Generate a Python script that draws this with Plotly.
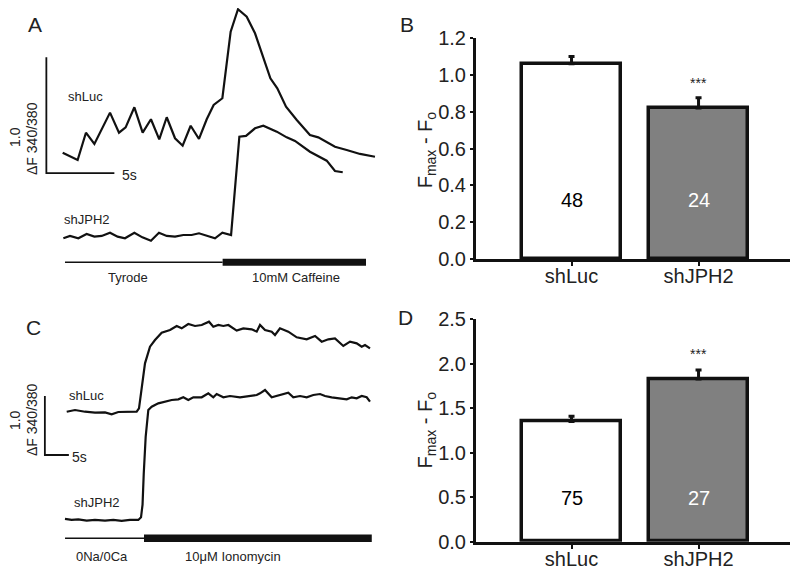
import plotly.graph_objects as go

# ---- Panel A: caffeine traces (time in s, ratio in dF 340/380) ----
a_luc_t = [0, 1.10, 1.71, 2.33, 3.48, 4.14, 4.63, 5.27, 5.88, 6.49, 7.10, 7.65, 8.26, 8.82,
           9.41, 10.02, 10.59, 11.10, 11.74, 12.35, 12.89, 13.53, 14.14, 14.75, 15.27, 15.78,
           16.42, 17.21, 18.18, 18.79, 20.02, 20.88, 21.86, 22.96]
a_luc_y = [0.727, 0.664, 0.899, 0.802, 1.072, 0.899, 0.945, 1.118, 0.899, 1.015, 0.842, 1.032,
           0.851, 0.787, 0.959, 0.845, 1.015, 1.138, 1.196, 1.770, 1.963, 1.899, 1.756, 1.554,
           1.368, 1.282, 1.123, 1.009, 0.879, 0.859, 0.778, 0.750, 0.716, 0.692]
a_jph_t = [0.05, 0.54, 1.15, 1.76, 2.33, 2.87, 3.48, 4.04, 4.58, 5.27, 5.86, 6.49, 7.08, 7.65,
           8.26, 8.87, 9.48, 10.02, 10.66, 11.20, 11.74, 12.38, 12.99, 13.48, 14.14, 14.75,
           15.74, 16.47, 17.08, 18.18, 19.41, 20.02, 20.59]
a_jph_y = [-0.011, 0.009, -0.011, 0.026, 0.003, 0.009, 0.037, 0.003, -0.011, 0.037, -0.003,
           -0.032, 0.037, 0.009, 0.003, 0.017, 0.017, 0.032, 0.009, -0.011, 0.037, 0.017,
           0.865, 0.871, 0.937, 0.960, 0.908, 0.859, 0.828, 0.735, 0.658, 0.569, 0.558]
a_scale_t = [-1.2, -1.2, 3.8]
a_scale_y = [1.55, 0.55, 0.55]
a_thin_t = [0.17, 11.76]
a_thick_t = [11.76, 22.3]
a_bar_y = -0.218

# ---- Panel C: ionomycin traces ----
c_luc_t = [0.15, 1.88, 3.96, 6.04, 8.13, 9.51, 10.90, 12.99, 14.72, 15.21, 15.76, 16.46, 17.50,
           18.54, 19.93, 21.67, 23.06, 24.10, 25.48, 26.88, 28.27, 29.79, 30.69, 31.73, 32.78,
           33.82, 35.56, 36.94, 38.69, 39.73, 40.42, 41.46, 42.85, 43.54, 44.58, 46.31, 48.06,
           50.14, 51.88, 53.27, 54.65, 56.04, 57.77, 59.17, 60.56, 61.60, 62.29, 63.33]
c_luc_y = [1.824, 1.853, 1.824, 1.807, 1.813, 1.780, 1.819, 1.819, 1.824, 1.881, 2.192, 2.644,
           2.926, 3.039, 3.163, 3.209, 3.277, 3.237, 3.311, 3.277, 3.294, 3.350, 3.265, 3.294,
           3.277, 3.294, 3.198, 3.237, 3.220, 3.181, 3.294, 3.209, 3.181, 3.124, 3.237, 3.181,
           3.085, 3.051, 3.107, 3.011, 3.051, 3.068, 2.938, 3.011, 2.983, 2.926, 2.955, 2.898]
c_jph_t = [-0.21, 1.18, 2.57, 4.31, 6.04, 8.13, 9.86, 11.60, 13.33, 15.06, 15.63, 15.95, 16.20,
           16.60, 17.15, 17.85, 19.23, 20.63, 22.02, 23.40, 24.44, 25.48, 26.52, 28.27, 29.65,
           30.69, 31.39, 32.78, 34.17, 36.25, 38.33, 39.73, 40.42, 41.46, 42.85, 44.58, 46.31,
           47.35, 48.75, 50.14, 51.52, 52.92, 53.96, 55.35, 57.08, 58.48, 59.52, 60.56, 61.60,
           62.64, 63.33]
c_jph_y = [0.006, -0.011, 0.000, -0.023, -0.011, -0.023, -0.011, -0.028, -0.011, -0.011, 0.034,
           0.250, 0.780, 1.400, 1.853, 1.909, 1.966, 1.994, 2.023, 2.034, 2.068, 2.023, 2.068,
           2.068, 2.136, 2.068, 2.124, 2.068, 2.090, 2.068, 2.090, 2.107, 2.136, 2.192, 2.068,
           2.107, 2.147, 2.068, 2.090, 2.068, 2.107, 2.124, 2.090, 2.068, 2.051, 2.034, 2.068,
           2.051, 2.090, 2.068, 1.994]
c_scale_t = [-4.4, -4.4, 0.6]
c_scale_y = [2.09, 1.09, 1.09]
c_thin_t = [-0.2, 16.25]
c_thick_t = [16.25, 63.7]
c_bar_y = -0.322

# ---- Panels B and D: bar summaries ----
groups = ["shLuc", "shJPH2"]
b_mean = [1.06, 0.82]
b_sem = [0.04, 0.055]
b_n = ["48", "24"]
d_mean = [1.35, 1.83]
d_sem = [0.06, 0.10]
d_n = ["75", "27"]
bar_fill = ["white", "#808080"]
n_color = ["black", "white"]

FONT = "Arial, Liberation Sans, sans-serif"
INK = "#111111"

# the page body keeps its 8px default margin, so the figure is 8px smaller each way
W, H, OFF = 792, 566, 8


def px(x):
    return (x - OFF) / W


def py(y):
    return 1 - (y - OFF) / H


fig = go.Figure()


def trace_line(t, y, xa, ya, width=2.2):
    fig.add_trace(go.Scatter(x=t, y=y, mode="lines", xaxis=xa, yaxis=ya, cliponaxis=False,
                             line=dict(color=INK, width=width), hoverinfo="skip"))


# Panel A
trace_line(a_luc_t, a_luc_y, "x", "y")
trace_line(a_jph_t, a_jph_y, "x", "y")
trace_line(a_scale_t, a_scale_y, "x", "y", 1.8)
trace_line(a_thin_t, [a_bar_y] * 2, "x", "y", 1.5)
trace_line(a_thick_t, [a_bar_y] * 2, "x", "y", 7)

# Panel C
trace_line(c_luc_t, c_luc_y, "x3", "y3")
trace_line(c_jph_t, c_jph_y, "x3", "y3")
trace_line(c_scale_t, c_scale_y, "x3", "y3", 1.8)
trace_line(c_thin_t, [c_bar_y] * 2, "x3", "y3", 1.5)
trace_line(c_thick_t, [c_bar_y] * 2, "x3", "y3", 7.5)

# Panels B / D
for mean, sem, xa, ya in [(b_mean, b_sem, "x2", "y2"), (d_mean, d_sem, "x4", "y4")]:
    fig.add_trace(go.Bar(
        x=groups, y=mean, xaxis=xa, yaxis=ya, width=0.78,
        marker=dict(color=bar_fill, line=dict(color=INK, width=3.5)),
        error_y=dict(type="data", array=sem, arrayminus=[0, 0], symmetric=False,
                     color=INK, thickness=3, width=3),
        hoverinfo="skip"))

hidden = dict(visible=False, fixedrange=True, automargin=False)
bar_x = dict(range=[-0.752, 1.72], showline=True, linecolor=INK, linewidth=3,
             ticks="outside", ticklen=4, tickwidth=2, tickcolor=INK, automargin=False,
             ticklabelstandoff=-7,
             tickfont=dict(family=FONT, size=20, color="#222"), showgrid=False)
bar_y = dict(showline=True, linecolor=INK, linewidth=3, ticks="outside", ticklen=3,
             tickwidth=2, tickcolor=INK, tickfont=dict(family=FONT, size=20, color="#222"),
             showgrid=False, zeroline=False, automargin=False)

fig.update_layout(
    width=W, height=H,
    margin=dict(l=0, r=0, t=0, b=0),
    paper_bgcolor="white", plot_bgcolor="rgba(0,0,0,0)",
    showlegend=False, bargap=0,
    font=dict(family=FONT, color="#222"),
    xaxis=dict(domain=[px(8), px(400)], range=[-4.02, 24.80], **hidden),
    yaxis=dict(domain=[py(290), py(8)], range=[-0.457, 1.974], **hidden),
    xaxis3=dict(domain=[px(8), px(400)], range=[-12.08, 69.58], **hidden),
    yaxis3=dict(domain=[py(574), py(290)], range=[-0.927, 3.887], **hidden),
    xaxis2=dict(domain=[px(476), px(790)], anchor="y2", **bar_x),
    yaxis2=dict(domain=[py(259), py(38)], anchor="x2", range=[0, 1.2],
                tickvals=[0, 0.2, 0.4, 0.6, 0.8, 1.0, 1.2], tickformat=".1f", **bar_y),
    xaxis4=dict(domain=[px(476), px(790)], anchor="y4", **bar_x),
    yaxis4=dict(domain=[py(541.7), py(319.3)], anchor="x4", range=[0, 2.5],
                tickvals=[0, 0.5, 1.0, 1.5, 2.0, 2.5], tickformat=".1f", **bar_y),
)

ann = []


def label(text, x, y, xref, yref, size=13, angle=0, xanchor="center", color="#222"):
    ann.append(dict(text=text, x=x, y=y, xref=xref, yref=yref, showarrow=False,
                    textangle=angle, xanchor=xanchor, yanchor="middle",
                    font=dict(family=FONT, size=size, color=color)))


# Panel letters
label("A", px(35), py(25), "paper", "paper", 21)
label("B", px(407), py(25), "paper", "paper", 21)
label("C", px(33), py(327), "paper", "paper", 21)
label("D", px(405), py(317), "paper", "paper", 21)

# Panel A texts
label("shLuc", 1.71, 1.207, "x", "y")
label("shJPH2", 1.81, 0.147, "x", "y")
label("Tyrode", 4.80, -0.353, "x", "y")
label("10mM Caffeine", 17.16, -0.353, "x", "y")
label("5s", 4.21, 0.534, "x", "y", 14, xanchor="left")
label("1.0", -3.51, 0.862, "x", "y", 14, -90)
label("ΔF 340/380", -2.26, 0.853, "x", "y", 14, -90)

# Panel C texts
label("shLuc", 4.17, 2.107, "x3", "y3")
label("shJPH2", 6.52, 0.277, "x3", "y3")
label("0Na/0Ca", 7.43, -0.638, "x3", "y3")
label("10μM Ionomycin", 34.86, -0.638, "x3", "y3")
label("5s", 0.83, 1.056, "x3", "y3", 14, xanchor="left")
label("1.0", -10.6, 1.683, "x3", "y3", 14, -90)
label("ΔF 340/380", -7.08, 1.683, "x3", "y3", 14, -90)

# Bar panel texts
for i, g in enumerate(groups):
    label(b_n[i], g, 0.32, "x2", "y2", 20, color=n_color[i])
    label(d_n[i], g, 0.49, "x4", "y4", 20, color=n_color[i])
label("***", "shJPH2", 0.958, "x2", "y2", 14)
label("***", "shJPH2", 2.115, "x4", "y4", 14)
label("F<sub>max</sub> - F<sub>o</sub>", px(426), 0.59, "paper", "y2", 20, -90)
label("F<sub>max</sub> - F<sub>o</sub>", px(426), 1.25, "paper", "y4", 20, -90)

fig.update_layout(annotations=ann)
fig.write_html("out.html")
